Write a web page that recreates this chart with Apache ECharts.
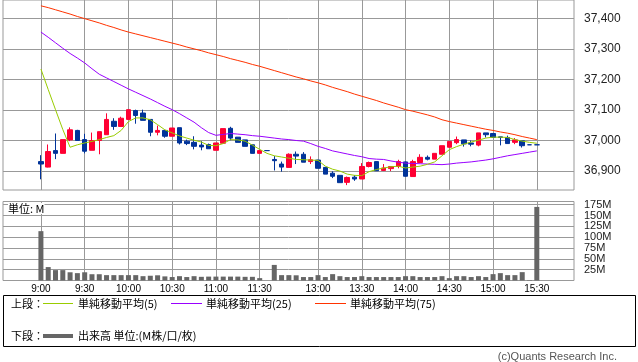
<!DOCTYPE html>
<html><head><meta charset="utf-8">
<script src="https://cdn.jsdelivr.net/npm/echarts@6/dist/echarts.min.js"></script>
<style>html,body{margin:0;padding:0;background:#fff}#c{width:638px;height:362px}</style>
</head><body><div id="c"></div>
<script>
const times = ['9:00','9:05','9:10','9:15','9:20','9:25','9:30','9:35','9:40','9:45','9:50','9:55',
 '10:00','10:05','10:10','10:15','10:20','10:25','10:30','10:35','10:40','10:45','10:50','10:55',
 '11:00','11:05','11:10','11:15','11:20','11:25','11:30','',
 '12:30','12:35','12:40','12:45','12:50','12:55',
 '13:00','13:05','13:10','13:15','13:20','13:25','13:30','13:35','13:40','13:45','13:50','13:55',
 '14:00','14:05','14:10','14:15','14:20','14:25','14:30','14:35','14:40','14:45','14:50','14:55',
 '15:00','15:05','15:10','15:15','15:20','15:25','15:30'];
const opens = [36931,36913,36967,36958,37002,37033,37003,36968,37000,37019,
 37063,37046,37069,37098,37090,37069,37027,37033,37014,37042,
 36998,36994,36985,36987,36968,36991,37040,37011,37002,36986,
 36958,36967,36938,36923,36912,36955,36955,36931,36936,36912,
 36893,36886,36863,36880,36874,36915,36931,36902,36908,36915,
 36930,36882,36928,36945,36939,36955,36978,36993,37002,36992,
 36985,37025,37023,37012,37010,36994,36999,36986,36986];
const closes = [36923,36964,36958,37003,37035,37000,36965,37000,37029,37069,
 37046,37073,37101,37082,37066,37027,37033,37014,37041,36992,
 36990,36981,36979,36973,36992,37039,37008,36994,36981,36958,
 36967,36967,36934,36913,36955,36949,36929,36937,36909,36890,
 36883,36862,36879,36874,36915,36928,36901,36910,36915,36931,
 36883,36931,36945,36939,36958,36983,36997,37003,36989,36988,
 37025,37019,37010,37010,36990,37002,36983,36986,36986];
const lows = [36873,36912,36939,36958,36998,37000,36958,36968,36955,37019,
 37035,37046,37069,37055,37066,37014,37017,37009,37014,36987,
 36985,36971,36968,36973,36968,36991,37001,36994,36981,36958,
 36958,36967,36902,36898,36912,36923,36929,36923,36909,36890,
 36877,36862,36854,36868,36874,36912,36901,36900,36900,36909,
 36882,36882,36928,36935,36939,36955,36978,36988,36980,36981,
 36981,37010,37010,36984,36990,36988,36977,36986,36986];
const highs = [36952,36987,37023,37003,37043,37035,37022,37026,37029,37089,
 37073,37078,37101,37101,37101,37069,37049,37033,37041,37042,
 37003,37014,36998,36990,36992,37039,37045,37011,37002,36986,
 36967,36967,36949,36931,36958,36964,36962,36948,36937,36912,
 36899,36886,36882,36886,36926,36931,36931,36923,36915,36937,
 36931,36937,36955,36951,36958,36983,36997,37013,37002,37000,
 37025,37025,37023,37012,37016,37008,36999,36986,36986];
const volumes = [114,31,24,24,19,17,19,14.5,14.5,12.4,
 12.4,12.4,12.4,12.4,10,11,12,9.5,8,10,
 8,10,8.5,9,9,9,9,9,8.5,8.5,
 5.5,0,36,12.4,12.4,12,8,8,12.4,8,
 14.7,10,8,8,10,8,8,8,8,8,
 10,10,8,8,8,10,5.5,10,10,8,
 10,8,14.7,17,12.4,12.4,19.3,1,170];
const ma5 = [37234,37167,37101,37036,36978,36986,36992,36997,37003,37010,
 37016,37033,37062,37074,37074,37068,37052,37035,37025,37015,
 37008,37001,36995,36984,36983,36990,37003,37002,36998,36985,
 36971,36958,36950,36946,36942,36938,36937,36936,36935,36916,
 36906,36900,36890,36886,36885,36898,36905,36910,36914,36916,
 36910,36913,36916,36922,36930,36950,36970,36980,36988,36995,
 37001,37008,37011,37011,37010,37003,36998,36994,36991];
const ma25 = [37355,37338,37320,37302,37285,37270,37254,37235,37217,37205,
 37193,37181,37169,37158,37147,37136,37124,37112,37101,37088,
 37074,37060,37042,37026,37017,37020,37023,37021,37019,37016,
 37014,37011,37008,37005,37003,37000,36998,36990,36981,36974,
 36966,36961,36956,36951,36947,36941,36939,36938,36933,36929,
 36926,36925,36924,36923,36922,36921,36923,36926,36928,36930,
 36933,36936,36940,36945,36950,36954,36958,36962,36966];
const ma75 = [37441,37435,37428,37421,37414,37406,37399,37392,37385,37377,
 37370,37362,37355,37349,37343,37337,37331,37325,37319,37313,
 37306,37300,37294,37287,37281,37275,37268,37262,37256,37249,
 37243,37236,37229,37222,37215,37208,37202,37195,37189,37182,
 37174,37167,37160,37152,37145,37138,37131,37123,37116,37109,
 37101,37096,37090,37084,37077,37068,37062,37057,37052,37047,
 37042,37037,37033,37028,37024,37019,37013,37008,37003];
const tickSlots = [0,6,12,18,24,30,38,44,50,56,62,68];
const tickLabels = tickSlots.map(i => times[i]);
const priceTicks = [36900,37000,37100,37200,37300,37400];
const volumeTicks = [25,50,75,100,125,150,175];

const GRID = '#999999';
const NUMFONT = 'Liberation Sans';
const JPFONT = 'Noto Sans CJK JP';
const fmtComma = v => String(v).replace(/\B(?=(\d{3})+(?!\d))/g, ',');

const chart = echarts.init(document.getElementById('c'), null, {renderer: 'canvas'});
const xBase = (gi, showLabel) => ({
  gridIndex: gi, type: 'value', min: -5.2, max: 73.1,
  axisLine: {show: false},
  axisTick: {show: false, customValues: tickSlots},
  axisLabel: {show: showLabel, customValues: tickSlots,
    formatter: v => tickLabels[tickSlots.indexOf(Math.round(v))] || '',
    fontSize: 10, fontFamily: NUMFONT, color: '#000', margin: 4},
  splitLine: {show: true, lineStyle: {color: GRID, width: 1}}
});
const lineS = (name, arr, color) => ({
  name, type: 'line', xAxisIndex: 0, yAxisIndex: 0,
  data: arr.map((v, i) => [i, v]), showSymbol: false, symbol: 'none',
  lineStyle: {color, width: 1}, z: 5, silent: true
});

chart.setOption({
  animation: false,
  backgroundColor: '#fff',
  grid: [
    {left: 3, top: 0, width: 571, height: 190, show: true, borderColor: GRID, borderWidth: 1, backgroundColor: 'transparent'},
    {left: 3, top: 201.5, width: 571, height: 79, show: true, borderColor: GRID, borderWidth: 1, backgroundColor: 'transparent'}
  ],
  xAxis: [xBase(0, false), xBase(1, true)],
  yAxis: [
    {gridIndex: 0, type: 'value', position: 'right', min: 36838, max: 37460,
     axisLine: {show: false},
     axisTick: {show: true, length: 6, lineStyle: {color: GRID}, customValues: priceTicks},
     axisLabel: {customValues: priceTicks, formatter: fmtComma, fontSize: 12, fontFamily: NUMFONT, color: '#222', margin: 10},
     splitLine: {show: true, lineStyle: {color: GRID, width: 1}}},
    {gridIndex: 1, type: 'value', position: 'right', min: 0, max: 182.5,
     axisLine: {show: false},
     axisTick: {show: true, length: 6, lineStyle: {color: GRID}, customValues: volumeTicks},
     axisLabel: {customValues: volumeTicks, formatter: v => v + 'M', fontSize: 11, fontFamily: NUMFONT, color: '#222', margin: 10},
     splitLine: {show: true, lineStyle: {color: GRID, width: 1}}}
  ],
  series: [
    {type: 'candlestick', xAxisIndex: 0, yAxisIndex: 0, barWidth: 5,
     data: times.map((t, i) => [i, opens[i], closes[i], lows[i], highs[i]]),
     itemStyle: {color: '#ff0033', color0: '#003399', borderColor: '#ff0033', borderColor0: '#003399', borderColorDoji: '#003399', borderWidth: 1},
     z: 3, silent: true},
    lineS('単純移動平均(75)', ma75, '#ff3300'),
    lineS('単純移動平均(25)', ma25, '#9900ff'),
    lineS('単純移動平均(5)', ma5, '#99cc00'),
    {type: 'bar', name: '出来高', xAxisIndex: 1, yAxisIndex: 1, barWidth: 5,
     data: volumes.map((v, i) => [i, v]), itemStyle: {color: '#666666'}, silent: true}
  ],
  graphic: [
    {type: 'text', left: 8, top: 203, z: 10, style: {text: '単位: M', font: '11px "' + JPFONT + '"', fill: '#000', backgroundColor: '#fff'}},
    {type: 'rect', shape: {x: 3.5, y: 295.5, width: 632, height: 51}, style: {fill: '#fff', stroke: '#000', lineWidth: 1}, z: 1},
    {type: 'text', x: 11, y: 303.5, z: 2, style: {text: '上段：', font: '11px "' + JPFONT + '"', fill: '#000', verticalAlign: 'middle'}},
    {type: 'line', shape: {x1: 43, y1: 303.5, x2: 73, y2: 303.5}, style: {stroke: '#99cc00', lineWidth: 1}, z: 2},
    {type: 'text', x: 78, y: 303.5, z: 2, style: {text: '単純移動平均(5)', font: '11px "' + JPFONT + '"', fill: '#000', verticalAlign: 'middle'}},
    {type: 'line', shape: {x1: 171, y1: 303.5, x2: 202, y2: 303.5}, style: {stroke: '#9900ff', lineWidth: 1}, z: 2},
    {type: 'text', x: 206, y: 303.5, z: 2, style: {text: '単純移動平均(25)', font: '11px "' + JPFONT + '"', fill: '#000', verticalAlign: 'middle'}},
    {type: 'line', shape: {x1: 315, y1: 303.5, x2: 346, y2: 303.5}, style: {stroke: '#ff3300', lineWidth: 1}, z: 2},
    {type: 'text', x: 350, y: 303.5, z: 2, style: {text: '単純移動平均(75)', font: '11px "' + JPFONT + '"', fill: '#000', verticalAlign: 'middle'}},
    {type: 'text', x: 11, y: 336, z: 2, style: {text: '下段：', font: '11px "' + JPFONT + '"', fill: '#000', verticalAlign: 'middle'}},
    {type: 'line', shape: {x1: 43, y1: 336, x2: 73, y2: 336}, style: {stroke: '#666666', lineWidth: 4}, z: 2},
    {type: 'text', x: 78, y: 336, z: 2, style: {text: '出来高 単位:(M株/口/枚)', font: '11px "' + JPFONT + '"', fill: '#000', verticalAlign: 'middle'}},
    {type: 'text', x: 617, y: 357, z: 2, style: {text: '(c)Quants Research Inc.', font: '11px "' + NUMFONT + '"', fill: '#555', align: 'right', verticalAlign: 'middle'}}
  ]
});
</script></body></html>
